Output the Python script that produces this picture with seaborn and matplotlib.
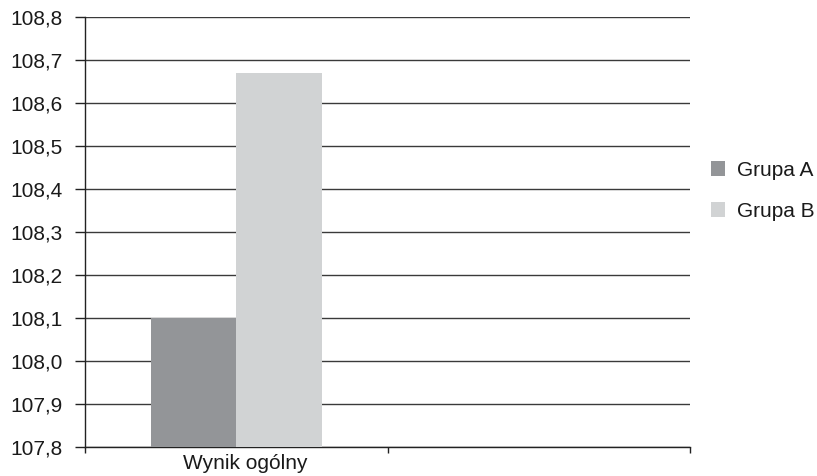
import matplotlib
matplotlib.use("Agg")
import matplotlib.pyplot as plt
import seaborn as sns
import pandas as pd
from matplotlib.ticker import FuncFormatter, FixedLocator
from matplotlib.patches import Patch

categories = ["Wynik ogólny"]
all_categories = ["Wynik ogólny", " "]
groups = ["Grupa A", "Grupa B"]
values_a = [108.1]
values_b = [108.67]
colors = ["#939598", "#d1d3d4"]

df = pd.DataFrame({
    "cat": categories * 2,
    "grupa": [groups[0]] * len(categories) + [groups[1]] * len(categories),
    "val": values_a + values_b,
})

sns.set_theme(style="white")
plt.rcParams["font.family"] = ["Liberation Sans", "DejaVu Sans"]

fig = plt.figure(figsize=(8.17, 4.76), dpi=100)
ax = fig.add_axes([85 / 817, 29 / 476, 605 / 817, 430 / 476])

sns.barplot(data=df, x="cat", y="val", hue="grupa", order=all_categories,
            hue_order=groups, palette=colors, width=0.565, gap=0,
            saturation=1, ax=ax, legend=False, zorder=3, linewidth=0,
            edgecolor="none")

ax.set_ylim(107.8, 108.8)
ax.set_xlim(-0.5, 1.5)
yt = [107.8 + 0.1 * i for i in range(11)]
ax.set_yticks(yt)
ax.yaxis.set_major_formatter(FuncFormatter(lambda v, p: f"{v:.1f}".replace(".", ",")))
ax.grid(axis="y", color="#3a3a3a", linewidth=1.0, zorder=0)
ax.set_axisbelow(True)

fs = 15
ax.set_xticks([0.03])
ax.set_xticklabels(["Wynik ogólny"])
ax.xaxis.set_minor_locator(FixedLocator([-0.5, 0.5, 1.5]))
ax.tick_params(axis="x", which="major", length=0, pad=5, labelsize=fs, colors="#1a1a1a")
ax.tick_params(axis="x", which="minor", length=4, width=1, color="#222222", bottom=True)
ax.tick_params(axis="y", length=7.2, width=1, color="#222222", left=True, labelsize=fs,
               pad=9, labelcolor="#1a1a1a")
ax.set_xlabel("")
ax.set_ylabel("")

for s in ["top", "right"]:
    ax.spines[s].set_visible(False)
for s in ["left", "bottom"]:
    ax.spines[s].set_color("#222222")
    ax.spines[s].set_linewidth(1.0)

handles = [Patch(facecolor=c, edgecolor="none") for c in colors]
fig.legend(handles, groups, loc="center left", bbox_to_anchor=(692 / 817, 1 - 191 / 476),
           frameon=False, fontsize=fs, handlelength=0.7, handleheight=0.7,
           labelspacing=1.05, handletextpad=0.58, labelcolor="#1a1a1a")

fig.savefig("out.png", dpi=100)
